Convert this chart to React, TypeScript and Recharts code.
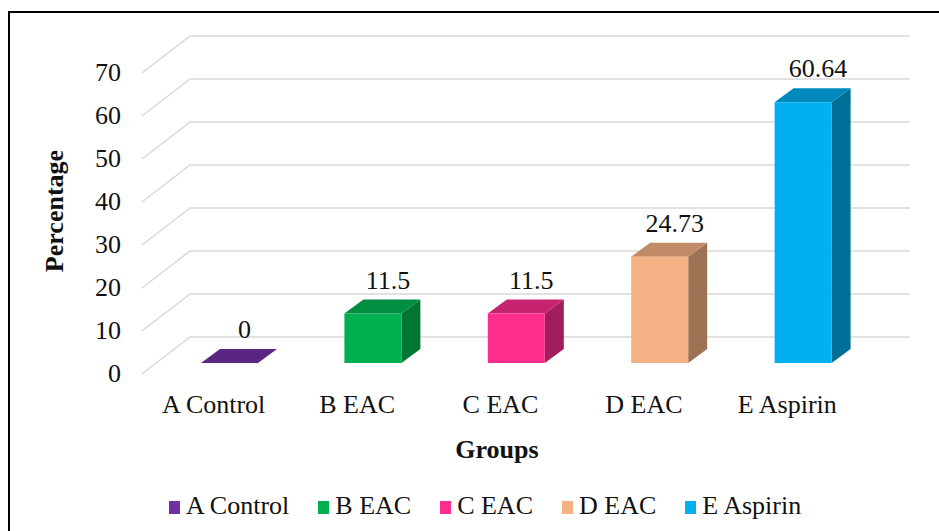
import { Bar, BarChart, CartesianGrid, LabelList, Legend, XAxis, YAxis } from "recharts";

const groups = ["A Control", "B EAC", "C EAC", "D EAC", "E Aspirin"];
const percentages = [0, 11.5, 11.5, 24.73, 60.64];
const yTicks = [0, 10, 20, 30, 40, 50, 60, 70];

const frontColors = ["#7030A0", "#00B050", "#FF2E8E", "#F4B183", "#00B0F0"];
const topColors = ["#5A2681", "#008E40", "#C6246F", "#C08B66", "#0089BC"];
const sideColors = ["#4A1F6A", "#007634", "#A11D5B", "#9C7252", "#006F98"];

const chartData = groups.map((name, i) => ({ name, value: percentages[i] }));

const font = '"Liberation Serif", "Times New Roman", serif';
const textColor = "#111";
const depthX = 19;
const depthY = -14;

// 3d box: front face, top face, right side
const Bar3D = (props: any) => {
  const { x, y, width, height, index } = props;
  const top = `${x},${y} ${x + depthX},${y + depthY} ${x + width + depthX},${y + depthY} ${x + width},${y}`;
  const side = `${x + width},${y} ${x + width + depthX},${y + depthY} ${x + width + depthX},${y + height + depthY} ${x + width},${y + height}`;
  return (
    <g>
      <polygon points={side} fill={sideColors[index]} />
      <polygon points={top} fill={topColors[index]} />
      {height > 0 && <rect x={x} y={y} width={width} height={height} fill={frontColors[index]} />}
    </g>
  );
};

// floor/back-wall grid line: diagonal from front to back, then along the back wall
const gridLine = (props: any) => {
  const { x1, x2, y1 } = props;
  return (
    <polyline
      key={`grid-${y1}`}
      points={`${x1 - 16},${y1 + 11} ${x1 + 32},${y1 - 26} ${x2 + 35},${y1 - 26}`}
      fill="none"
      stroke="#D9D9D9"
      strokeWidth={1.5}
    />
  );
};

const YTick = (props: any) => {
  const { x, y, payload } = props;
  return (
    <text x={x} y={y + 19} textAnchor="end" fontFamily={font} fontSize={26} fill={textColor}>
      {payload.value}
    </text>
  );
};

const XTick = (props: any) => {
  const { x, y, payload } = props;
  return (
    <text x={x - 16} y={y + 50} textAnchor="middle" fontFamily={font} fontSize={26} fill={textColor}>
      {payload.value}
    </text>
  );
};

const ValueLabel = (props: any) => {
  const vb = props.viewBox ?? props;
  const x = vb.x ?? props.x;
  const y = vb.y ?? props.y;
  const width = vb.width ?? props.width;
  return (
    <text x={x + width / 2 + 15} y={y - 25} textAnchor="middle" fontFamily={font} fontSize={26} fill={textColor}>
      {String(props.value)}
    </text>
  );
};

const LegendContent = () => (
  <div style={{ display: "flex", alignItems: "center", paddingLeft: 169, fontFamily: font, fontSize: 26, lineHeight: "30px", color: textColor }}>
    {groups.map((g, i) => (
      <div key={g} style={{ display: "flex", alignItems: "center", marginRight: i < groups.length - 1 ? 29 : 0 }}>
        <span style={{ display: "inline-block", width: 11, height: 13, background: frontColors[i], marginRight: 6, marginTop: 3 }} />
        <span>{g}</span>
      </div>
    ))}
  </div>
);

export default function App() {
  return (
    <div style={{ position: "absolute", left: 0, top: 0, width: 939, height: 531, overflow: "hidden", background: "#fff" }}>
      <div style={{ position: "absolute", left: 8, top: 11, width: 1000, height: 600, borderTop: "2px solid #000", borderLeft: "2px solid #000" }} />
      <div style={{ position: "absolute", left: 0, top: 0 }}>
        <BarChart width={939} height={531} data={chartData} margin={{ top: 62, right: 64, bottom: 108, left: 58 }}>
          <CartesianGrid horizontal={gridLine} vertical={false} />
          <XAxis
            dataKey="name"
            height={60}
            axisLine={false}
            tickLine={false}
            tickSize={0}
            tickMargin={0}
            tick={<XTick />}
            label={{
              content: () => (
                <text x={497} y={458} textAnchor="middle" fontFamily={font} fontSize={26} fontWeight="bold" fill={textColor}>
                  Groups
                </text>
              ),
            }}
          />
          <YAxis
            width={100}
            domain={[0, 70]}
            ticks={yTicks}
            axisLine={false}
            tickLine={false}
            tickSize={0}
            tickMargin={37}
            tick={<YTick />}
            label={{
              content: () => (
                <text
                  x={63}
                  y={211}
                  transform="rotate(-90 63 211)"
                  textAnchor="middle"
                  fontFamily={font}
                  fontSize={26}
                  fontWeight="bold"
                  fill={textColor}
                >
                  Percentage
                </text>
              ),
            }}
          />
          <Legend
            verticalAlign="middle"
            align="center"
            layout="horizontal"
            wrapperStyle={{ top: 491, left: 0, width: 939, height: 30 }}
            content={() => <LegendContent />}
          />
          <Bar dataKey="value" barSize={57} shape={Bar3D} isAnimationActive={false}>
            <LabelList dataKey="value" content={ValueLabel} />
          </Bar>
        </BarChart>
      </div>
    </div>
  );
}
